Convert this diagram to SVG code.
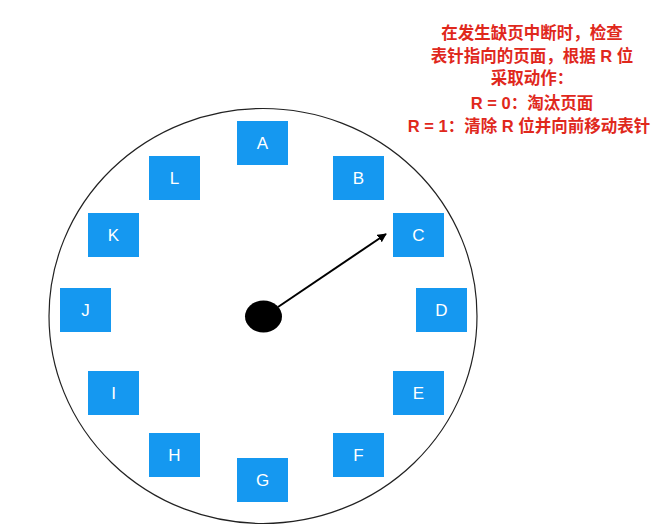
<svg xmlns="http://www.w3.org/2000/svg" width="669" height="532" viewBox="0 0 669 532">
<style>
.box{fill:#1598F0;}
.lbl{fill:#fff;font-family:"Liberation Sans",Arial,sans-serif;font-size:17px;text-anchor:middle;dominant-baseline:central;}
.note{fill:#E0281C;font-family:"Liberation Sans","Noto Sans CJK SC",sans-serif;font-size:16.5px;font-weight:bold;text-anchor:middle;}
</style>
<defs>
<marker id="ah" viewBox="0 0 10 10" refX="9" refY="5" markerWidth="9" markerHeight="9" markerUnits="userSpaceOnUse" orient="auto">
<path d="M0,0 L10,5 L0,10 z" fill="#000"/>
</marker>
</defs>
<rect width="669" height="532" fill="#fff"/>
<ellipse id="clock" cx="263" cy="316" rx="214" ry="207.5" fill="none" stroke="#222" stroke-width="1.2"/>
<g id="A"><rect class="box" x="237" y="121" width="51" height="44"/><text class="lbl" x="262.5" y="143">A</text></g>
<g id="B"><rect class="box" x="333" y="156" width="51" height="44"/><text class="lbl" x="358.5" y="178">B</text></g>
<g id="C"><rect class="box" x="393" y="213" width="51" height="44"/><text class="lbl" x="418.5" y="235">C</text></g>
<g id="D"><rect class="box" x="416" y="288" width="51" height="44"/><text class="lbl" x="441.5" y="310">D</text></g>
<g id="E"><rect class="box" x="393" y="371" width="51" height="44"/><text class="lbl" x="418.5" y="393">E</text></g>
<g id="F"><rect class="box" x="333" y="433" width="51" height="44"/><text class="lbl" x="358.5" y="455">F</text></g>
<g id="G"><rect class="box" x="237" y="458" width="51" height="44"/><text class="lbl" x="262.5" y="480">G</text></g>
<g id="H"><rect class="box" x="149" y="433" width="51" height="44"/><text class="lbl" x="174.5" y="455">H</text></g>
<g id="I"><rect class="box" x="88" y="371" width="51" height="44"/><text class="lbl" x="113.5" y="393">I</text></g>
<g id="J"><rect class="box" x="60" y="288" width="51" height="44"/><text class="lbl" x="85.5" y="310">J</text></g>
<g id="K"><rect class="box" x="88" y="213" width="51" height="44"/><text class="lbl" x="113.5" y="235">K</text></g>
<g id="L"><rect class="box" x="149" y="156" width="51" height="44"/><text class="lbl" x="174.5" y="178">L</text></g>
<g id="hub"><ellipse cx="263.5" cy="316.5" rx="18.5" ry="16" fill="#000"/></g>
<g id="connectors">
<line x1="278" y1="307" x2="386" y2="234" stroke="#000" stroke-width="2" marker-end="url(#ah)"/>
</g>
<g id="note">
<text class="note" x="532" y="39">在发生缺页中断时，检查</text>
<text class="note" x="532" y="62">表针指向的页面，根据 R 位</text>
<text class="note" x="532" y="84">采取动作：</text>
<text class="note" x="532" y="109">R = 0：淘汰页面</text>
<text class="note" x="529" y="132">R = 1：清除 R 位并向前移动表针</text>
</g>
</svg>
